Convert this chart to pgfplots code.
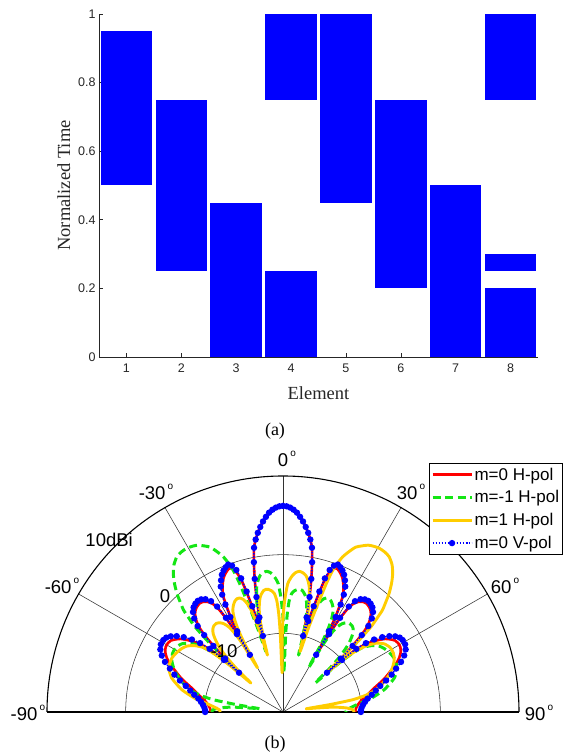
\documentclass[border=0pt]{standalone}
\usepackage{pgfplots}
\usepackage{pgfplotstable}
\pgfplotsset{compat=1.18}
\usepackage{fontspec}
\setmainfont{Liberation Serif}
\setsansfont{Liberation Sans}
\definecolor{mred}{RGB}{255,0,0}
\definecolor{mgreen}{RGB}{20,230,20}
\definecolor{myellow}{RGB}{255,205,0}
\definecolor{mblue}{RGB}{0,0,255}
\definecolor{axgray}{RGB}{38,38,38}
\definecolor{gridc}{RGB}{50,50,50}
\newcommand{\dg}{\hspace{0.12em}\raisebox{0.55em}{\fontsize{10}{10}\selectfont o}}
\newcommand{\tl}[1]{\textsf{\fontsize{12.5}{14}\selectfont #1}}

% m=0 pattern: angle, V-pol (b), H-pol (r) in dB
\pgfplotstableread{
a b r
-90.0 -10.1 -10.8
-89.0 -10.1 -10.8
-87.0 -10.0 -10.7
-85.0 -9.8 -10.5
-83.0 -9.5 -10.2
-81.0 -9.1 -9.8
-79.0 -8.5 -9.2
-77.0 -7.9 -8.6
-75.0 -7.2 -7.9
-73.0 -6.3 -7.0
-71.0 -5.4 -6.1
-69.0 -4.6 -5.3
-67.0 -3.7 -4.4
-65.0 -3.0 -3.7
-63.0 -2.5 -3.2
-61.0 -2.25 -2.95
-59.0 -2.25 -2.95
-57.5 -2.4 -3.1
-56.0 -2.8 -3.5
-54.5 -3.4 -4.0
-53.0 -4.2 -4.8
-51.5 -5.2 -5.8
-50.3 -6.3 -6.8
-49.3 -7.7 -8.1
-48.6 -10.0 -10.2
-48.2 -12.5 -12.5
-47.3 -10.0 -10.1
-46.5 -7.8 -8.0
-45.7 -6.0 -6.3
-44.8 -4.6 -5.0
-43.5 -3.6 -4.0
-42.0 -2.9 -3.3
-40.5 -2.5 -2.9
-39.0 -2.3 -2.7
-37.5 -2.2 -2.6
-36.0 -2.3 -2.7
-34.5 -2.6 -3.0
-33.0 -3.2 -3.6
-32.0 -4.2 -4.6
-31.2 -6.0 -6.3
-30.6 -8.5 -8.7
-30.1 -11.6 -11.6
-29.6 -8.2 -8.4
-29.0 -6.2 -6.5
-28.2 -4.5 -4.9
-27.4 -3.2 -3.6
-26.4 -2.2 -2.7
-25.2 -1.5 -2.0
-24.0 -0.9 -1.4
-22.8 -0.5 -1.0
-21.6 -0.2 -0.7
-20.4 0.0 -0.5
-19.2 -0.3 -0.8
-18.2 -1.0 -1.5
-17.4 -2.2 -2.7
-16.8 -4.0 -4.4
-16.2 -6.0 -6.3
-15.5 -8.0 -8.2
-14.8 -10.0 -10.0
-14.0 -7.6 -7.6
-13.0 -5.0 -5.0
-12.0 -2.7 -2.7
-11.0 -0.6 -0.6
-10.0 1.2 1.2
-9.0 2.2 2.2
-8.0 3.0 3.0
-7.0 3.7 3.7
-6.0 4.35 4.35
-5.0 4.9 4.9
-4.0 5.4 5.4
-3.0 5.75 5.75
-2.0 6.0 6.0
-1.0 6.15 6.15
0.0 6.2 6.2
1.0 6.15 6.15
2.0 6.0 6.0
3.0 5.75 5.75
4.0 5.4 5.4
5.0 4.9 4.9
6.0 4.35 4.35
7.0 3.7 3.7
8.0 3.0 3.0
9.0 2.2 2.2
10.0 1.2 1.2
11.0 -0.6 -0.6
12.0 -2.7 -2.7
13.0 -5.0 -5.0
14.0 -7.6 -7.6
14.8 -10.0 -10.0
15.5 -8.0 -8.2
16.2 -6.0 -6.3
16.8 -4.0 -4.4
17.4 -2.2 -2.7
18.2 -1.0 -1.5
19.2 -0.3 -0.8
20.4 0.0 -0.5
21.6 -0.2 -0.7
22.8 -0.5 -1.0
24.0 -0.9 -1.4
25.2 -1.5 -2.0
26.4 -2.2 -2.7
27.4 -3.2 -3.6
28.2 -4.5 -4.9
29.0 -6.2 -6.5
29.6 -8.2 -8.4
30.1 -11.6 -11.6
30.6 -8.5 -8.7
31.2 -6.0 -6.3
32.0 -4.2 -4.6
33.0 -3.2 -3.6
34.5 -2.6 -3.0
36.0 -2.3 -2.7
37.5 -2.2 -2.6
39.0 -2.3 -2.7
40.5 -2.5 -2.9
42.0 -2.9 -3.3
43.5 -3.6 -4.0
44.8 -4.6 -5.0
45.7 -6.0 -6.3
46.5 -7.8 -8.0
47.3 -10.0 -10.1
48.2 -12.5 -12.5
48.6 -10.0 -10.2
49.3 -7.7 -8.1
50.3 -6.3 -6.8
51.5 -5.2 -5.8
53.0 -4.2 -4.8
54.5 -3.4 -4.0
56.0 -2.8 -3.5
57.5 -2.4 -3.1
59.0 -2.25 -2.95
61.0 -2.25 -2.95
63.0 -2.5 -3.2
65.0 -3.0 -3.7
67.0 -3.7 -4.4
69.0 -4.6 -5.3
71.0 -5.4 -6.1
73.0 -6.3 -7.0
75.0 -7.2 -7.9
77.0 -7.9 -8.6
79.0 -8.5 -9.2
81.0 -9.1 -9.8
83.0 -9.5 -10.2
85.0 -9.8 -10.5
87.0 -10.0 -10.7
89.0 -10.1 -10.8
90.0 -10.1 -10.8
}\mzero

% m=-1 H-pol pattern (m=1 is its mirror image): angle, dB
\pgfplotstableread{
a g
-90 -11.0
-88.5 -11.0
-86.5 -11.8
-84.5 -13.5
-83 -16
-82 -17
-81 -14
-80 -11
-78.5 -9.2
-76.5 -7.8
-74 -6.8
-71 -5.8
-68 -5.0
-65 -4.4
-62 -4.1
-59 -4.1
-56 -4.5
-53.5 -5.3
-51.5 -6.5
-50 -8
-48.8 -10
-48 -12.5
-47.3 -9.5
-46.7 -6.8
-45.9 -4.4
-45 -3.0
-44.3 -1.9
-43 -0.8
-41.8 0.25
-40 1.5
-38.3 2.5
-36.5 3.3
-34.4 3.9
-32.5 4.1
-30.5 4.15
-28.5 4.0
-27 3.8
-25.5 3.4
-23.8 2.9
-22.3 2.0
-21 1.1
-20 0.0
-19.3 -1.0
-18.7 -2.6
-18.2 -4.5
-17.6 -6.5
-16.8 -9
-15.8 -12
-15 -9.5
-14.3 -7.5
-13.6 -6
-12.9 -5
-11.8 -3.7
-10.6 -2.9
-9.5 -2.4
-8 -2.1
-6.6 -2.0
-5.2 -2.2
-4 -2.6
-3 -3.1
-2.1 -3.7
-1.3 -5
-0.7 -6.2
0 -8
0.6 -10.5
1.3 -15
2 -10
2.5 -7.5
3.2 -5.8
4.2 -4.9
5.5 -4.5
6.8 -4.3
7.9 -4.25
9 -4.35
10.2 -4.7
11.2 -5.1
12.2 -5.8
13.2 -6.8
14 -8
14.7 -10
15.3 -12.5
16 -9.5
16.7 -7.7
17.4 -6.4
18.4 -5.4
19.5 -4.8
20.8 -4.5
22 -4.45
23.3 -4.6
24.8 -5.0
26.3 -5.6
27.5 -6.6
28.5 -8
29.3 -10
30 -13.5
30.7 -10
31.5 -8.3
32.5 -7.2
33.8 -6.5
35.3 -6.1
37 -5.9
38.7 -5.95
40.3 -6.2
41.8 -6.7
43.2 -7.5
44.5 -8.5
45.8 -10
47 -12
48 -14.5
48.8 -11
49.8 -8.5
51 -7
53 -6
55.5 -5.2
58 -4.8
61 -4.5
64 -4.3
67 -4.35
70 -4.6
73 -5.2
75 -5.9
77.5 -6.8
79.7 -7.9
81.8 -9
83.6 -10.2
85.8 -11.2
88 -11.9
90 -12
}\mone

\begin{document}
\begin{tikzpicture}
\useasboundingbox (0pt,0pt) rectangle (567pt,756pt);

% ---------------- (a) ----------------
\begin{axis}[
  at={(99pt,399pt)}, anchor=south west,
  width=439pt, height=343pt, scale only axis,
  xmin=0.5, xmax=8.5, ymin=0, ymax=1,
  axis lines*=left,
  axis line style={axgray, line width=0.6pt},
  tick style={axgray, line width=0.6pt},
  tick align=inside, major tick length=4pt,
  xtick={1,2,3,4,5,6,7,8},
  xticklabels={\tl{1},\tl{2},\tl{3},\tl{4},\tl{5},\tl{6},\tl{7},\tl{8}},
  ytick={0,0.2,0.4,0.6,0.8,1},
  yticklabels={\tl{0},\tl{0.2},\tl{0.4},\tl{0.6},\tl{0.8},\tl{1}},
  ticklabel style={text=axgray},
  xticklabel style={yshift=-3pt},
  xlabel={Element}, ylabel={Normalized Time},
  every axis x label/.style={at={(axis description cs:0.5,-0.125)}, anchor=base,
     font=\fontsize{18.5}{20}\selectfont, text=axgray},
  every axis y label/.style={at={(axis description cs:-0.066,0.5)}, rotate=90, anchor=base,
     font=\fontsize{18.5}{20}\selectfont, text=axgray},
]
\addplot[fill=mblue, draw=none] coordinates {(0.53,0.5) (1.47,0.5) (1.47,0.95) (0.53,0.95)} --cycle;
\addplot[fill=mblue, draw=none] coordinates {(1.53,0.25) (2.47,0.25) (2.47,0.75) (1.53,0.75)} --cycle;
\addplot[fill=mblue, draw=none] coordinates {(2.53,0) (3.47,0) (3.47,0.45) (2.53,0.45)} --cycle;
\addplot[fill=mblue, draw=none] coordinates {(3.53,0) (4.47,0) (4.47,0.25) (3.53,0.25)} --cycle;
\addplot[fill=mblue, draw=none] coordinates {(3.53,0.75) (4.47,0.75) (4.47,1) (3.53,1)} --cycle;
\addplot[fill=mblue, draw=none] coordinates {(4.53,0.45) (5.47,0.45) (5.47,1) (4.53,1)} --cycle;
\addplot[fill=mblue, draw=none] coordinates {(5.53,0.2) (6.47,0.2) (6.47,0.75) (5.53,0.75)} --cycle;
\addplot[fill=mblue, draw=none] coordinates {(6.53,0) (7.47,0) (7.47,0.5) (6.53,0.5)} --cycle;
\addplot[fill=mblue, draw=none] coordinates {(7.53,0) (8.47,0) (8.47,0.2) (7.53,0.2)} --cycle;
\addplot[fill=mblue, draw=none] coordinates {(7.53,0.25) (8.47,0.25) (8.47,0.3) (7.53,0.3)} --cycle;
\addplot[fill=mblue, draw=none] coordinates {(7.53,0.75) (8.47,0.75) (8.47,1) (7.53,1)} --cycle;
\end{axis}
\node[font=\fontsize{18}{20}\selectfont, anchor=base] at (275pt,320pt) {(a)};

% ---------------- (b) ----------------
\begin{axis}[
  at={(47pt,44pt)}, anchor=south west,
  x=7.8667pt, y=7.8667pt,
  xmin=-30, xmax=30, ymin=0, ymax=30,
  hide axis, clip=false,
  legend style={at={(rel axis cs:0.809,1.055)}, anchor=north west,
    draw=black, fill=white, thin,
    font=\sffamily\fontsize{17}{19}\selectfont,
    inner xsep=2pt, inner ysep=3pt, row sep=6pt,
    nodes={inner sep=1.5pt}},
  legend cell align=left,
  legend image code/.code={\draw[mark repeat=2,mark phase=2,#1] plot coordinates {(0pt,0pt) (19.5pt,0pt) (39pt,0pt)};},
]
% grid
\draw[gridc, line width=0.55pt] (axis cs:0,0) -- (axis cs:-25.981,15);
\draw[gridc, line width=0.55pt] (axis cs:0,0) -- (axis cs:-15,25.981);
\draw[gridc, line width=0.55pt] (axis cs:0,0) -- (axis cs:0,30);
\draw[gridc, line width=0.55pt] (axis cs:0,0) -- (axis cs:15,25.981);
\draw[gridc, line width=0.55pt] (axis cs:0,0) -- (axis cs:25.981,15);
\draw[gridc, line width=0.55pt] (axis cs:20,0) arc[start angle=0, end angle=180, radius=157.33pt];
\draw[gridc, line width=0.55pt] (axis cs:10,0) arc[start angle=0, end angle=180, radius=78.67pt];
\draw[black, line width=1.1pt] (axis cs:30,0) arc[start angle=0, end angle=180, radius=236pt];
\draw[black, line width=1.8pt] (axis cs:-30,0) -- (axis cs:30,0);

\addplot[mred, line width=2.6pt, line join=round, smooth, tension=0.4]
  table[x expr={(\thisrow{r}+20)*sin(\thisrow{a})}, y expr={(\thisrow{r}+20)*cos(\thisrow{a})}] {\mzero};
\addlegendentry{m=0 H-pol}
\addplot[mgreen, line width=3pt, dash pattern=on 8pt off 4.5pt, line join=round, smooth, tension=0.4]
  table[x expr={(\thisrow{g}+20)*sin(\thisrow{a})}, y expr={(\thisrow{g}+20)*cos(\thisrow{a})}] {\mone};
\addlegendentry{m=-1 H-pol}
\addplot[myellow, line width=2.9pt, line join=round, smooth, tension=0.4]
  table[x expr={-(\thisrow{g}+20)*sin(\thisrow{a})}, y expr={(\thisrow{g}+20)*cos(\thisrow{a})}] {\mone};
\addlegendentry{m=1 H-pol}
\addplot[mblue, line width=1.5pt, dash pattern=on 1.4pt off 1.6pt, smooth, tension=0.4,
   mark=*, mark size=2.4pt, mark options={solid, fill=mblue, draw=mblue}]
  table[x expr={(\thisrow{b}+20)*sin(\thisrow{a})}, y expr={(\thisrow{b}+20)*cos(\thisrow{a})}] {\mzero};
\addlegendentry{m=0 V-pol}

% labels
\begin{scope}[font=\sffamily\fontsize{18.5}{20}\selectfont]
\node at (axis cs:0.5,32.16) {0\dg};
\node at (axis cs:16.27,27.97) {30\dg};
\node at (axis cs:-16.14,27.97) {-30\dg};
\node at (axis cs:28.22,16.02) {60\dg};
\node at (axis cs:-28.09,16.02) {-60\dg};
\node at (axis cs:32.54,-0.13) {90\dg};
\node at (axis cs:-32.42,-0.13) {-90\dg};
\node at (axis cs:-22.1,21.9) {10dBi};
\node at (axis cs:-15.0,14.7) {0};
\node at (axis cs:-7.5,7.75) {-10};
\end{scope}
\end{axis}
\node[font=\fontsize{18}{20}\selectfont, anchor=base] at (275pt,7pt) {(b)};
\end{tikzpicture}
\end{document}
